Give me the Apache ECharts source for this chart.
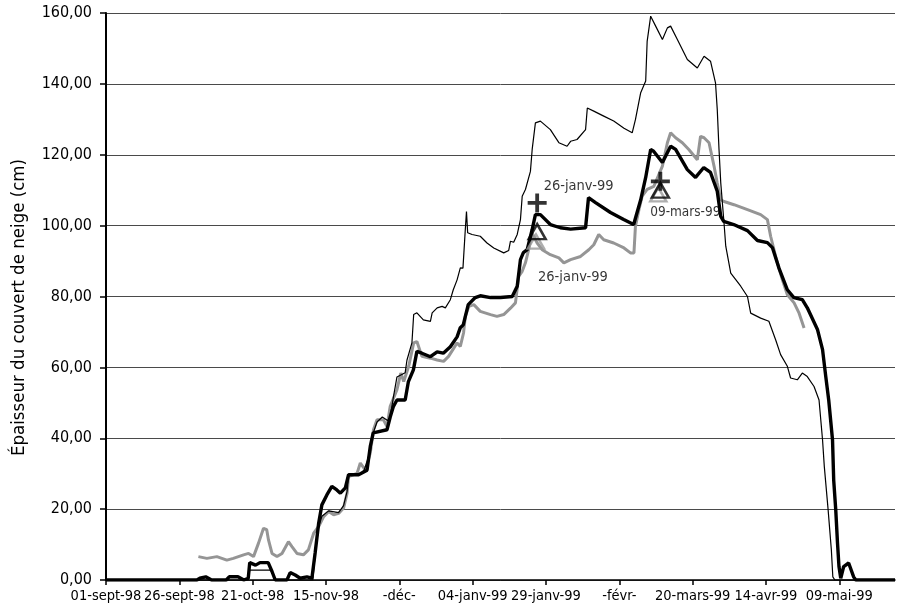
<!DOCTYPE html>
<html>
<head>
<meta charset="utf-8">
<script src="https://cdn.jsdelivr.net/npm/echarts@6/dist/echarts.min.js"></script>
<style>html,body{margin:0;padding:0;background:#fff}#c{width:902px;height:616px}</style>
</head>
<body>
<div id="c"></div>
<script>
// x = days since 01-sept-98
var xTickValues = [0, 25, 50, 75, 100, 125, 150, 175, 200, 225, 250];
var xTickLabels = ['01-sept-98','26-sept-98','21-oct-98','15-nov-98','-déc-','04-janv-99','29-janv-99','-févr-','20-mars-99','14-avr-99','09-mai-99'];
var yTickLabels = ['0,00','20,00','40,00','60,00','80,00','100,00','120,00','140,00','160,00'];

var thickSeries = [[0,0],[31,0],[32,0.5],[34,0.9],[36,0],[41,0],[42,0.9],[45,0.9],[47,0],[48.5,0.5],[49,4.9],[51,4.2],[52.5,4.9],[55.3,4.9],[56.6,2.4],[57.7,0],[61.7,0],[62.8,2.1],[64.5,1.4],[66.2,0.5],[68.5,0.9],[70.2,0.5],[71.3,7.6],[72.5,16],[73.6,21.2],[75.3,24],[77,26.4],[78.7,25.4],[79.9,24.5],[81.6,26],[82.7,29.7],[86.1,29.7],[89,31],[90.1,37.7],[91.1,41.5],[95.8,42.4],[96.9,46],[98,49],[99.2,50.8],[102,50.8],[103.1,56],[104.8,59.3],[106,64.5],[107.7,64],[110.6,63],[112.9,64.4],[115,64],[117.4,65.8],[119.7,68.6],[120.8,71.2],[121.8,72],[123.5,77.7],[125.9,79.7],[127.6,80.2],[131.1,79.7],[134.5,79.7],[138.5,80],[140.2,82.9],[141.3,90.4],[142.3,92.4],[143.6,93.2],[145.3,98.9],[146.4,103.1],[148.1,103.1],[151.5,100.3],[154.9,99.4],[158.4,99],[163.5,99.4],[164.5,107.9],[166.9,106.5],[172,103.7],[176.5,101.7],[179.9,100.3],[182.3,107.3],[184,113.6],[185.7,121.5],[186.7,121],[189.7,117.8],[192.5,122.4],[194.2,121.5],[198.2,115.8],[201,113.6],[203.8,116.4],[206.1,115],[208.4,109.7],[209.6,102.6],[210.6,101.2],[214,100.3],[218.7,98.6],[222.1,95.8],[225.5,95.2],[227.2,93.8],[229.4,88.1],[232.3,81.9],[234.5,79.7],[237.4,79.1],[239.1,76.8],[242.6,70.6],[244.3,65],[245.4,57.4],[246.4,50.8],[247.7,39.5],[248.1,28.2],[248.8,19.8],[249.4,10.4],[249.9,3.8],[250.5,0.5],[251.5,3.8],[253.2,4.8],[254.9,0.9],[255.6,0],[269,0]];

var thinSeries = [[0,0],[48.5,0],[49,2.8],[56.6,2.8],[57.7,0],[70.5,0],[71.3,7],[72.5,15],[73.6,18],[75.9,19.5],[79.3,19],[81,21],[82.2,25],[82.7,29.5],[86.1,29.5],[88,31],[90.1,36],[91.1,41.5],[92.4,44.6],[94.2,46],[96,45],[96.9,46],[98,51.7],[99.2,57.3],[102,58.5],[102.6,62],[104.3,66.9],[104.9,74.9],[106,75.4],[108.2,73.4],[110.6,73],[111.2,75.4],[112.9,76.8],[114.6,77.2],[115.7,76.8],[117.4,79.1],[118.4,81.9],[119.7,84.7],[120.8,88.1],[121.7,88],[122.5,98.9],[122.9,104],[123.3,98],[124.8,97.5],[127.6,97],[129.9,95.1],[132.2,93.7],[135.6,92.3],[137.3,93],[137.9,95.6],[139,95.3],[140.2,97.5],[141.3,101.7],[141.9,108.3],[143,110.2],[144.7,115.3],[145.3,121.5],[146.4,129],[148.1,129.5],[151.5,127.1],[154.4,123.4],[157.2,122.4],[158.4,123.8],[160.6,124.3],[163.5,127.1],[164.1,133.2],[166.3,132.3],[169.7,130.9],[173.1,129.5],[176.6,127.5],[179.4,126.2],[180.5,129.9],[182.3,137.5],[184,140.8],[184.5,152],[185.7,159.1],[187.4,156.3],[189.7,152.5],[191.4,155.8],[192.5,156.3],[194.8,152.5],[198.2,146.9],[201.6,144.5],[203.9,147.8],[206.1,146.4],[207.8,140.3],[208.4,132.8],[209,121.5],[209.6,112],[210.7,100.8],[211.3,94.2],[213,86.6],[216.4,82.9],[218.7,80],[219.8,75.3],[223.2,73.9],[226,73],[228.3,67.8],[230,63.6],[232.3,60.3],[233.4,57],[235.7,56.5],[237.4,58.4],[239.1,57.4],[241.4,54.6],[243.1,50.8],[244.3,39.5],[244.9,32],[246.2,19.8],[247.3,8.5],[247.8,0.9],[248.5,0],[269,0]];

var graySeries = [[31.5,6.6],[34.4,6.1],[37.8,6.6],[41.2,5.6],[43.4,6.1],[46.9,7.1],[48.6,7.5],[50.3,6.6],[52,10.4],[53.7,14.6],[54.8,14.2],[55.4,11.3],[56.6,7.5],[58.3,6.6],[60,7.5],[62.2,10.8],[63.4,9.4],[65.1,7.5],[67.3,7.1],[69,8.5],[70.8,13.2],[72.5,15.1],[74.2,17.9],[75.9,19.3],[77.6,18.4],[79.3,18.8],[81,20.3],[82.2,24.5],[82.7,29.2],[85.6,30.1],[86.7,33],[88.4,31.1],[90.1,35.8],[91.2,42.4],[92.4,45.2],[94.6,45.2],[95.8,43.3],[96.9,49],[99.2,53.7],[100.5,58.4],[101.5,56],[103.2,60.3],[104.9,66.9],[106,67.3],[107.7,63.1],[110.6,62.6],[112.9,62.1],[115.1,61.7],[116.8,63.1],[119.7,66.9],[120.8,65.9],[121.9,69.7],[122.5,74.4],[123.7,77.2],[125.4,77.7],[127.6,75.8],[131.1,74.9],[133.3,74.4],[135.6,74.9],[137.9,76.7],[139.6,78.2],[140.7,85.7],[141.9,87.1],[143,89.5],[144.1,93.2],[144.7,95.6],[145.3,97.9],[147,95.1],[148.7,93.2],[151.5,91.8],[154.4,90.9],[156.1,89.5],[158.4,90.4],[161.8,91.3],[164.6,93.2],[166.3,94.6],[168,97.5],[169.7,96],[173.1,95.1],[176.6,93.7],[178.8,92.3],[180,92.3],[180.5,99.8],[181.7,104.5],[182.8,108.3],[184.5,110.2],[186.8,111.1],[189.7,116.8],[191.4,123.4],[192.5,126.2],[194.2,124.8],[196.5,123.4],[198.7,121.5],[201.6,118.6],[202.7,125.2],[203.9,124.8],[205.6,123.4],[207.3,116.8],[208.4,112],[209.6,107.3],[210.7,106.8],[214.1,105.9],[218.7,104.5],[223.2,103.1],[225.5,101.7],[226.6,97],[228.3,91.3],[230.6,84.7],[232.3,80.5],[234.6,78.2],[236.3,75.3],[238,71.1]];

var plusMarkers = [[147,106.4],[189,112.5]];
var plusLabels = ['26-janv-99',''];
var triMarkers = [[147,98.3],[189,110]];
var triLabels = ['26-janv-99','09-mars-99'];
var grayMarkers = [[146.6,95.5],[188.3,108.8]];

var FONT = "'DejaVu Sans Condensed','Liberation Sans',sans-serif";
var chart = echarts.init(document.getElementById('c'), null, {renderer:'canvas'});
chart.setOption({
  animation: false,
  backgroundColor: '#fff',
  grid: {left: 106, right: 7, top: 13, bottom: 36, containLabel: false, outerBoundsMode: 'none'},
  xAxis: {
    type: 'value', min: 0, max: 269,
    axisLine: {show: true, lineStyle: {color: '#000', width: 1.5}},
    axisTick: {show: true, length: 5, customValues: xTickValues, lineStyle: {color: '#000', width: 1.5}},
    axisLabel: {customValues: xTickValues, margin: 9, color: '#000', fontFamily: FONT, fontSize: 14.5,
      showMinLabel: true, showMaxLabel: true, hideOverlap: false,
      formatter: function(v){ var i = xTickValues.indexOf(Math.round(v)); return i >= 0 ? xTickLabels[i] : ''; }},
    splitLine: {show: false}
  },
  yAxis: {
    type: 'value', min: 0, max: 160, interval: 20,
    name: 'Épaisseur du couvert de neige (cm)', nameLocation: 'middle', nameGap: 77, nameRotate: 90,
    nameTextStyle: {color: '#000', fontFamily: FONT, fontSize: 18.5, padding: [0, 22, 0, 0]},
    axisLine: {show: true, lineStyle: {color: '#000', width: 2}},
    axisTick: {show: true, length: 6, lineStyle: {color: '#000', width: 1.5}},
    axisLabel: {margin: 14, color: '#000', fontFamily: FONT, fontSize: 16,
      formatter: function(v){ return yTickLabels[Math.round(v/20)]; }},
    splitLine: {show: true, lineStyle: {color: '#4a4a4a', width: 1}}
  },
  series: [
    {type: 'line', data: graySeries, showSymbol: false, z: 2,
      lineStyle: {color: '#959595', width: 3}},
    {type: 'line', data: thinSeries, showSymbol: false, z: 3,
      lineStyle: {color: '#000', width: 1.2}},
    {type: 'line', data: thickSeries, showSymbol: false, z: 4,
      lineStyle: {color: '#000', width: 3.4}},
    {type: 'scatter', data: grayMarkers, z: 5, symbol: 'triangle', symbolSize: [16, 14],
      itemStyle: {color: 'rgba(0,0,0,0)', borderColor: '#9a9a9a', borderWidth: 2.5}},
    {type: 'scatter', data: triMarkers, z: 6, symbol: 'triangle', symbolSize: [17, 15],
      itemStyle: {color: 'rgba(0,0,0,0)', borderColor: '#000', borderWidth: 2.5},
      label: {show: true, position: 'right', distance: 0, color: '#000', fontFamily: FONT, fontSize: 14.5,
        formatter: function(p){ return p.dataIndex === 1 ? '{s|' + triLabels[1] + '}' : triLabels[p.dataIndex]; },
        rich: {s: {color: '#000', fontFamily: FONT, fontSize: 13.5}}},
      labelLayout: function(p){ return p.dataIndex === 0 ? {dx: -9, dy: 46} : {dx: -20, dy: 22}; }},
    {type: 'scatter', data: plusMarkers, z: 7,
      symbol: 'path://M40,0h20v40h40v20h-40v40h-20v-40h-40v-20h40z', symbolSize: 19,
      itemStyle: {color: '#000'},
      label: {show: true, position: 'right', distance: 0, color: '#000', fontFamily: FONT, fontSize: 14.5,
        formatter: function(p){ return plusLabels[p.dataIndex]; }},
      labelLayout: {dx: -3, dy: -17}}
  ]
});
</script>
</body>
</html>
